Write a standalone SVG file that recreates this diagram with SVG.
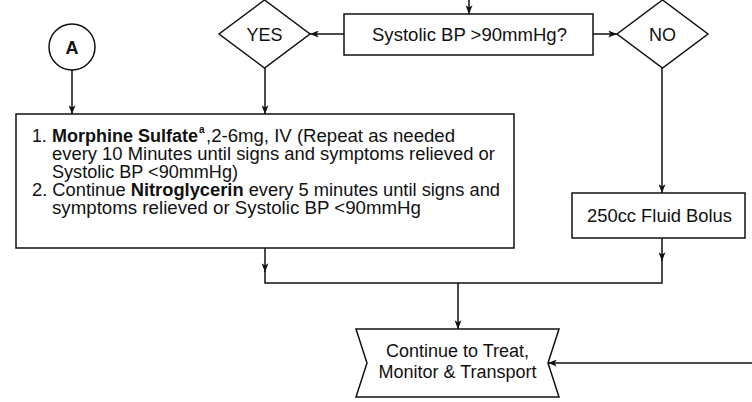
<svg xmlns="http://www.w3.org/2000/svg" width="752" height="402" viewBox="0 0 752 402">
<defs>
<marker id="ah" viewBox="0 0 10 8" refX="10" refY="4" markerWidth="10" markerHeight="7" markerUnits="userSpaceOnUse" orient="auto">
<path d="M0,0 L10,4 L0,8 L2.5,4 z" fill="#111"/>
</marker>
<style>
.s{fill:#fff;stroke:#111;stroke-width:1.5}
.c{fill:none;stroke:#111;stroke-width:1.5}
.t{font-family:"Liberation Sans",Arial,sans-serif;font-size:18px;fill:#111}
.p{font-size:17.5px}
.sup{font-size:10px}
.m{text-anchor:middle}
.b{font-weight:bold}
</style>
</defs>
<rect width="752" height="402" fill="#fff"/>
<g id="connectors">
<path class="c" d="M72,70 V114" marker-end="url(#ah)"/>
<path class="c" d="M469,0 V14" marker-end="url(#ah)"/>
<path class="c" d="M344,34 H310" marker-end="url(#ah)"/>
<path class="c" d="M593,34 H617" marker-end="url(#ah)"/>
<path class="c" d="M265,68 V114" marker-end="url(#ah)"/>
<path class="c" d="M662,68 V193" marker-end="url(#ah)"/>
<path class="c" d="M265,248 V272" marker-end="url(#ah)"/>
<path class="c" d="M662,238 V261" marker-end="url(#ah)"/>
<path class="c" d="M265,271 V283 H662 V260"/>
<path class="c" d="M458,283 V329" marker-end="url(#ah)"/>
<path class="c" d="M752,363 H548" marker-end="url(#ah)"/>
</g>
<g id="nodeA">
<circle class="s" cx="72" cy="47" r="23"/>
<text class="t m b" x="72" y="53.5">A</text>
</g>
<g id="systolic">
<rect class="s" x="344" y="14" width="249" height="41"/>
<text class="t m" x="469.5" y="40.5" textLength="195" lengthAdjust="spacingAndGlyphs">Systolic BP &gt;90mmHg?</text>
</g>
<g id="yes">
<polygon class="s" points="264.5,0 310,34 264.5,68 219,34"/>
<text class="t m" x="264.5" y="40.5">YES</text>
</g>
<g id="no">
<polygon class="s" points="662.5,0 708,34 662.5,68 617,34"/>
<text class="t m" x="662.5" y="40.5">NO</text>
</g>
<g id="treatment">
<rect class="s" x="16" y="114" width="498" height="134"/>
<text class="t p" x="32" y="141.5">1. </text>
<text class="t p b" x="52" y="141.5" textLength="146" lengthAdjust="spacingAndGlyphs">Morphine Sulfate</text>
<text class="t sup b" x="199" y="132.5">a</text>
<text class="t p" x="206" y="141.5" textLength="249" lengthAdjust="spacingAndGlyphs">,2-6mg, IV (Repeat as needed</text>
<text class="t p" x="52" y="159.7" textLength="443" lengthAdjust="spacingAndGlyphs">every 10 Minutes until signs and symptoms relieved or</text>
<text class="t p" x="52" y="177.9" textLength="186" lengthAdjust="spacingAndGlyphs">Systolic BP &lt;90mmHg)</text>
<text class="t p" x="32" y="196.1" textLength="468" lengthAdjust="spacingAndGlyphs">2. Continue <tspan class="b">Nitroglycerin</tspan> every 5 minutes until signs and</text>
<text class="t p" x="52" y="214.3" textLength="369" lengthAdjust="spacingAndGlyphs">symptoms relieved or Systolic BP &lt;90mmHg</text>
</g>
<g id="fluid">
<rect class="s" x="572" y="193" width="173" height="45"/>
<text class="t m" x="659.5" y="222" textLength="145" lengthAdjust="spacingAndGlyphs">250cc Fluid Bolus</text>
</g>
<g id="continue">
<polygon class="s" points="356,329 559,329 548,363 559,397 356,397 367,363"/>
<text class="t m" x="457.5" y="357">Continue to Treat,</text>
<text class="t m" x="457.5" y="378">Monitor &amp; Transport</text>
</g>
</svg>
